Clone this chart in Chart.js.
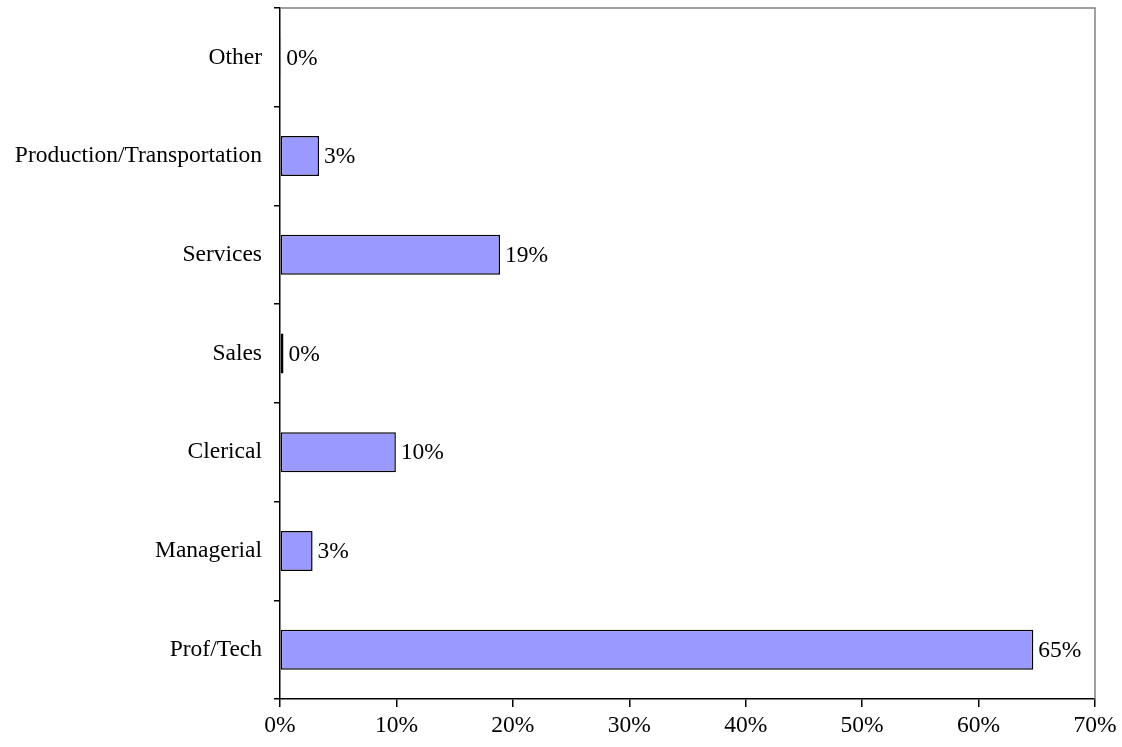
<!DOCTYPE html>
<html>
<head>
<meta charset="utf-8">
<script src="https://cdn.jsdelivr.net/npm/chart.js@4/dist/chart.umd.min.js"></script>
<style>
  html, body { margin: 0; padding: 0; background: #ffffff; }
  #wrap { width: 1122px; height: 747px; position: relative; }
</style>
</head>
<body>
<div id="wrap"><canvas id="c" width="1122" height="747"></canvas></div>
<script>
const categories = ["Other", "Production/Transportation", "Services", "Sales", "Clerical", "Managerial", "Prof/Tech"];
const shares = [0.1, 3.35, 18.9, 0.3, 9.95, 2.8, 64.7];
const xTicks = [0, 10, 20, 30, 40, 50, 60, 70];

const FONT = { family: "'Liberation Serif', 'Times New Roman', serif", size: 23.5 };

const frame = {
  id: 'frame',
  afterDatasetsDraw(chart) {
    const { ctx, chartArea: a } = chart;
    ctx.save();
    ctx.strokeStyle = '#808080';
    ctx.lineWidth = 1.5;
    ctx.beginPath();
    ctx.moveTo(a.left, a.top);
    ctx.lineTo(a.right, a.top);
    ctx.lineTo(a.right, a.bottom);
    ctx.stroke();
    // data labels
    const meta = chart.getDatasetMeta(0);
    ctx.fillStyle = '#000';
    ctx.font = `${FONT.size}px ${FONT.family}`;
    ctx.textAlign = 'left';
    ctx.textBaseline = 'middle';
    meta.data.forEach((bar, i) => {
      ctx.fillText(Math.round(shares[i]) + '%', bar.x + 5, bar.y + 1);
    });
    ctx.restore();
  }
};

new Chart(document.getElementById('c'), {
  type: 'bar',
  data: {
    labels: categories,
    datasets: [{
      data: shares,
      backgroundColor: '#9999FF',
      borderColor: '#000000',
      borderWidth: 1.5,
      borderSkipped: false,
      categoryPercentage: 1,
      barPercentage: 0.405
    }]
  },
  options: {
    indexAxis: 'y',
    responsive: false,
    animation: false,
    layout: { padding: { left: 0, top: 8, right: 27, bottom: 0 } },
    plugins: { legend: { display: false }, tooltip: { enabled: false } },
    scales: {
      x: {
        min: 0, max: 70,
        afterBuildTicks(scale) { scale.ticks = xTicks.map(v => ({ value: v })); },
        afterFit(scale) { scale.height = 48; scale.paddingLeft = 0; scale.paddingRight = 0; },
        grid: { drawOnChartArea: false, drawTicks: true, tickLength: 8, color: '#000', lineWidth: 1.5 },
        border: { color: '#000', width: 1.5 },
        ticks: { color: '#000', font: FONT, padding: 5, maxRotation: 0, autoSkip: false,
          callback: v => v + '%' }
      },
      y: {
        afterFit(scale) { scale.width = 280; scale.paddingTop = 0; scale.paddingBottom = 0; },
        grid: { drawOnChartArea: false, drawTicks: true, tickLength: 6, offset: true, color: '#000', lineWidth: 1.5 },
        border: { color: '#000', width: 1.5 },
        ticks: { color: '#000', font: FONT, padding: 12, autoSkip: false }
      }
    }
  },
  plugins: [frame]
});
</script>
</body>
</html>
